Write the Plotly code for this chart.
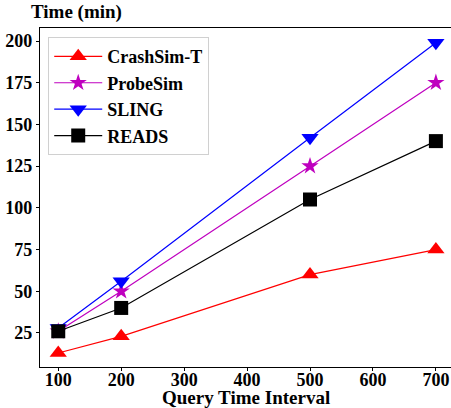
import plotly.graph_objects as go

x_vals = [100, 200, 500, 700]
crashsim_t = [13, 23, 60, 75]
probesim = [26, 50, 125, 175]
sling = [28, 56, 142, 199]
reads = [26, 40, 105, 140]
x_ticks = [100, 200, 300, 400, 500, 600, 700]
y_ticks = [25, 50, 75, 100, 125, 150, 175, 200]

series = [
    ("CrashSim-T", crashsim_t, "#ff0000", "triangle-up", 15),
    ("ProbeSim", probesim, "#bf00bf", "star", 13),
    ("SLING", sling, "#0000ff", "triangle-down", 15),
    ("READS", reads, "#000000", "square", 14),
]

FONT = "Liberation Serif"

fig = go.Figure()
for name, vals, color, sym, sz in series:
    fig.add_trace(go.Scatter(
        x=x_vals, y=vals, name="<b>%s</b>" % name, mode="lines+markers",
        line=dict(color=color, width=1.2),
        marker=dict(symbol=sym, size=sz, color=color, line=dict(width=0)),
    ))

fig.update_layout(
    width=451, height=408,
    margin=dict(l=40, r=0, t=28, b=41, autoexpand=False),
    paper_bgcolor="white", plot_bgcolor="white",
    font=dict(family=FONT, color="black", size=18),
    showlegend=True,
    legend=dict(
        x=0.02, y=0.973, xanchor="left", yanchor="top",
        bgcolor="white", bordercolor="#d0d0d0", borderwidth=1,
        font=dict(family=FONT, size=18, color="black"),
        itemwidth=48,
    ),
    annotations=[
        dict(text="<b>Time (min)</b>", xref="paper", yref="paper",
             x=-0.027, y=1.0, xanchor="left", yanchor="middle", yshift=16,
             showarrow=False, font=dict(family=FONT, size=19, color="black")),
        dict(text="<b>Query Time Interval</b>", xref="paper", yref="paper",
             x=0.5, y=0.0, xanchor="center", yanchor="middle", yshift=-30,
             showarrow=False, font=dict(family=FONT, size=19, color="black")),
    ],
)

fig.update_xaxes(
    range=[71, 724], tickvals=x_ticks,
    ticktext=["<b>%d</b>" % v for v in x_ticks],
    showgrid=False, zeroline=False, automargin=False,
    showline=True, linecolor="black", linewidth=1.2, mirror=True,
    ticks="outside", ticklen=3, tickcolor="black", ticklabelstandoff=-7,
    tickfont=dict(family=FONT, size=18, color="black"),
)
fig.update_yaxes(
    range=[4.6, 207.8], tickvals=y_ticks,
    ticktext=["<b>%d</b>" % v for v in y_ticks],
    showgrid=False, zeroline=False, automargin=False,
    showline=True, linecolor="black", linewidth=1.2, mirror=False,
    ticks="outside", ticklen=3, tickcolor="black",
    tickfont=dict(family=FONT, size=18, color="black"),
)

fig.write_html("out.html", config={"displayModeBar": False},
               post_script="document.body.style.margin='0px';document.body.style.overflow='hidden';")
